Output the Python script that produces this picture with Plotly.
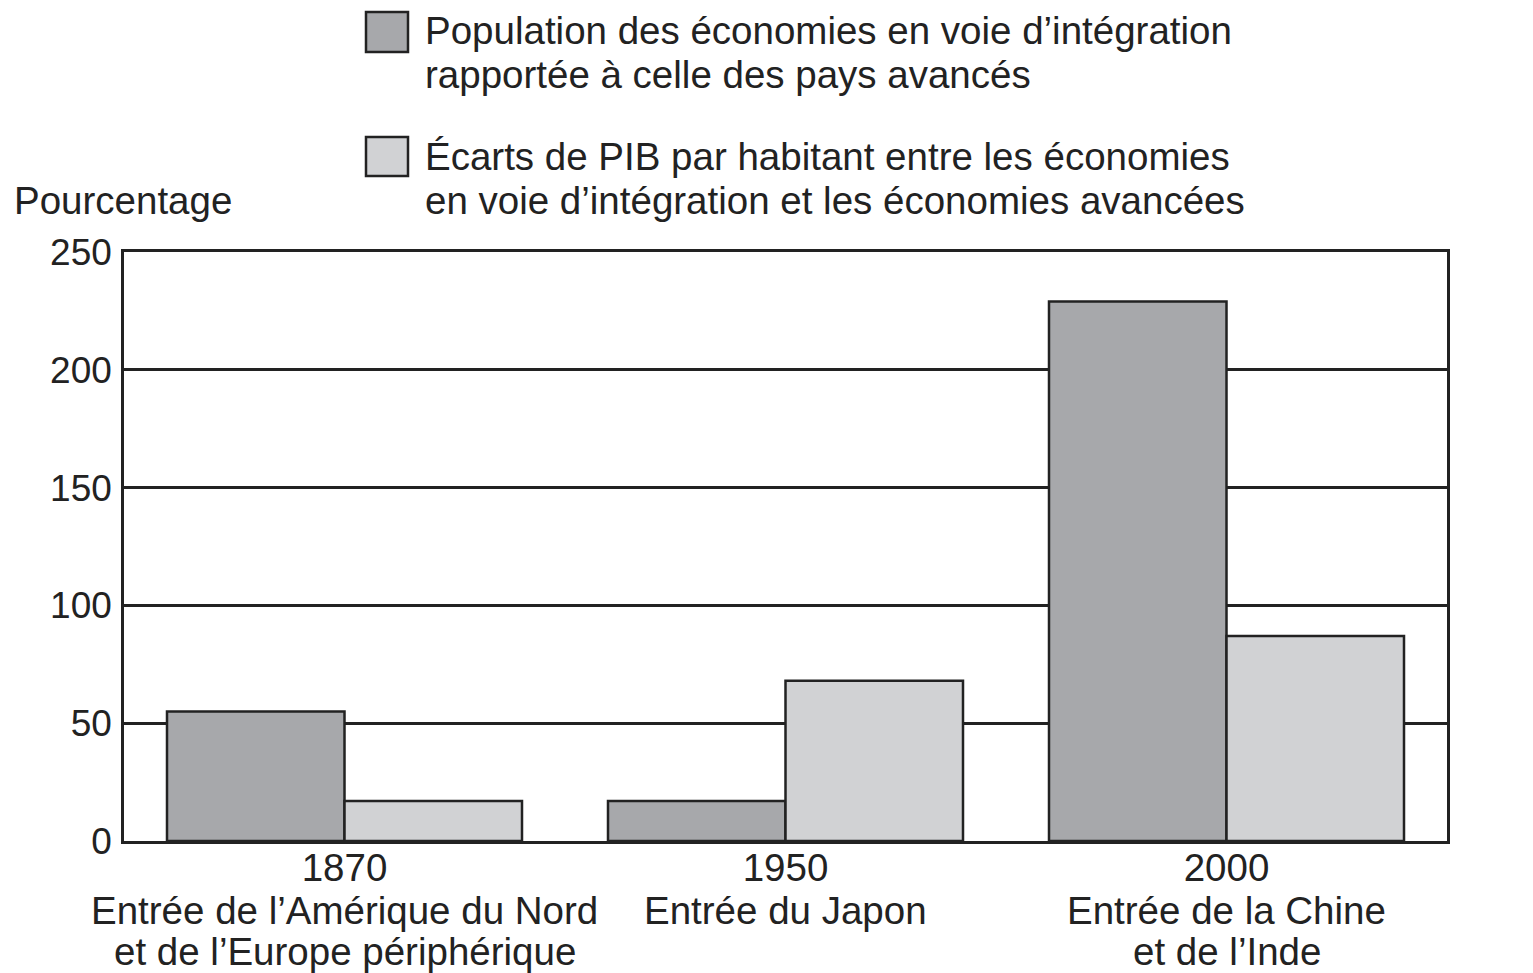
import plotly.graph_objects as go

# data
years = ["1870", "1950", "2000"]
entries = [
    ["Entrée de l’Amérique du Nord", "et de l’Europe périphérique"],
    ["Entrée du Japon"],
    ["Entrée de la Chine", "et de l’Inde"],
]
population_ratio = [55, 17, 229]
gdp_gap = [17, 68, 87]

series_names = [
    ["Population des économies en voie d’intégration",
     "rapportée à celle des pays avancés"],
    ["Écarts de PIB par habitant entre les économies",
     "en voie d’intégration et les économies avancées"],
]
y_ticks = [0, 50, 100, 150, 200, 250]

# the page body has an 8px margin, so the figure is drawn 8px smaller/offset
OFF = 8
W, H = 1533 - OFF, 973 - OFF
L, R, T, B = 124 - OFF, 1447 - OFF, 252 - OFF, 841 - OFF  # plot area in pixels
FONT = "Liberation Sans, Arial, Helvetica, sans-serif"
INK = "#222222"
DARK = "#a7a8ab"
LIGHT = "#d1d2d4"
FS = 37      # tick numbers
FS_TXT = 38.5  # words


def px_x(x):
    return (x - OFF - L) / (R - L)


def px_y(y):
    return (B - (y - OFF)) / (B - T)


fig = go.Figure()
fig.add_trace(go.Bar(x=years, y=population_ratio, name=" ".join(series_names[0]),
                     marker=dict(color=DARK, line=dict(color=INK, width=2.5)),
                     showlegend=False))
fig.add_trace(go.Bar(x=years, y=gdp_gap, name=" ".join(series_names[1]),
                     marker=dict(color=LIGHT, line=dict(color=INK, width=2.5)),
                     showlegend=False))

fig.update_layout(
    width=W, height=H,
    margin=dict(l=L, r=W - R, t=T, b=H - B, pad=0),
    paper_bgcolor="white", plot_bgcolor="white",
    font=dict(family=FONT, size=FS, color=INK),
    barmode="group", bargap=0.195, bargroupgap=0,
    xaxis=dict(type="category", range=[-0.5, 2.5], showline=True, linecolor=INK,
               linewidth=2.5, mirror=True, ticks="", ticklabelstandoff=-9,
               tickfont=dict(size=FS_TXT), showgrid=False, automargin=False),
    yaxis=dict(range=[0, 250], tickvals=y_ticks, showline=True, linecolor=INK,
               linewidth=2.5, mirror=True, gridcolor=INK, gridwidth=2.5,
               zeroline=False, ticks="outside", ticklen=2,
               tickcolor="rgba(0,0,0,0)", automargin=False),
    yaxis2=dict(range=[0, 250], tickvals=y_ticks, overlaying="y", side="right",
                showgrid=False, zeroline=False, showline=False, ticks="outside",
                ticklen=9, tickcolor="rgba(0,0,0,0)", automargin=False),
)

# two-line x labels under the years
line_y = [910, 951]
for i, lines in enumerate(entries):
    for j, text in enumerate(lines):
        fig.add_annotation(x=i, y=px_y(line_y[j]), xref="x", yref="paper",
                           text=text, showarrow=False, xanchor="center",
                           yanchor="middle", font=dict(size=FS_TXT))

fig.add_annotation(x=px_x(12), y=px_y(200), xref="paper", yref="paper",
                   text="Pourcentage", showarrow=False, xanchor="left",
                   yanchor="middle", font=dict(size=FS_TXT))

# legend drawn by hand (two big squares, two-line labels)
legend_boxes = [(12, 52, DARK), (137, 176, LIGHT)]
legend_lines = [(30, 74), (157, 200)]
for (y0, y1, col), lines, ys in zip(legend_boxes, series_names, legend_lines):
    fig.add_shape(type="rect", xref="paper", yref="paper",
                  x0=px_x(366), x1=px_x(408), y0=px_y(y1), y1=px_y(y0),
                  fillcolor=col, line=dict(color=INK, width=2.5))
    for text, yy in zip(lines, ys):
        fig.add_annotation(x=px_x(423), y=px_y(yy), xref="paper", yref="paper",
                           text=text, showarrow=False, xanchor="left",
                           yanchor="middle", font=dict(size=FS_TXT))

fig.write_html("out.html")
